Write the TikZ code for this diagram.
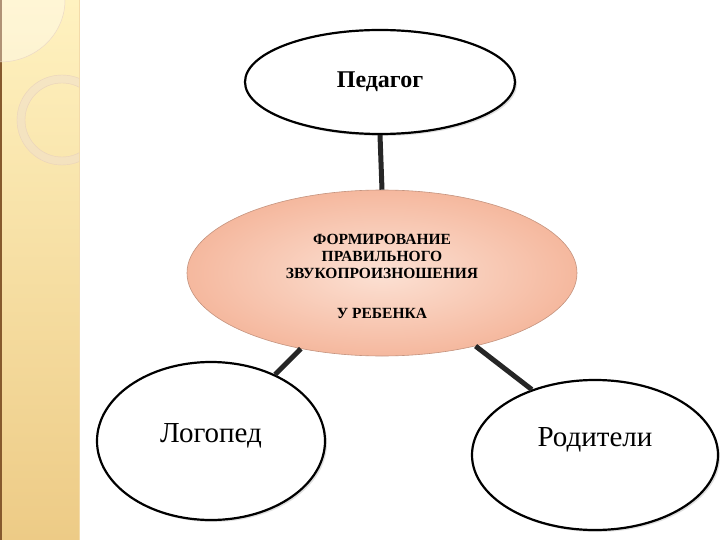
\documentclass[tikz,border=0pt]{standalone}
\usepackage{fontspec}
\setmainfont{Liberation Serif}
\usetikzlibrary{shapes.geometric,shadows}
\definecolor{stripA}{HTML}{FFF2C0}
\definecolor{stripB}{HTML}{EDCB86}
\definecolor{salmon}{HTML}{F5B89E}
\definecolor{salmonL}{HTML}{FCE1D4}
\begin{document}
\begin{tikzpicture}[x=1pt,y=-1pt,
  oval/.style={ellipse,draw=black,line width=2.2pt,fill=white,inner sep=0pt,drop shadow={opacity=0.25,shadow xshift=2pt,shadow yshift=-2pt}},
  conn/.style={line width=5pt,draw=black!85}]
\useasboundingbox (0,0) rectangle (720,540);
\fill[white] (0,0) rectangle (720,540);
% decorative strip
\shade[top color=stripA,bottom color=stripB] (0,0) rectangle (79,540);
\fill[brown!70!black] (0,0) rectangle (1.5,540);
\draw[stripB!70!white,line width=0.6pt] (79,0) -- (79,540);
\begin{scope}
\clip (0,0) rectangle (79,540);
\fill[white,opacity=0.35] (0,0) -- (65,0) arc[start angle=0,end angle=-90,x radius=65,y radius=-62] -- cycle;
\draw[brown!30,line width=0.5pt] (65,0) arc[start angle=0,end angle=-90,x radius=65,y radius=-62];
\draw[brown!25,line width=8pt,opacity=0.5] (62,120) circle[radius=41];
\draw[brown!35,line width=0.4pt] (62,120) circle[radius=45];
\draw[brown!35,line width=0.4pt] (62,120) circle[radius=37];
\end{scope}
% nodes
\node[oval,minimum width=270pt,minimum height=104pt] (ped) at (380,82) {};
\node (pedt) at (ped.center) {\fontsize{24}{28}\selectfont\bfseries Педагог};
\node[ellipse,draw=salmon!80!black,line width=0.6pt,minimum width=390pt,minimum height=166pt,inner sep=0pt,
  inner color=salmonL,outer color=salmon] (mid) at (382,273) {};
\node[align=center,font=\fontsize{15.5}{17}\selectfont\bfseries] (midt) at (382,256) {ФОРМИРОВАНИЕ\\ПРАВИЛЬНОГО\\ЗВУКОПРОИЗНОШЕНИЯ};
\node[font=\fontsize{15.5}{17}\selectfont\bfseries] (midt2) at (382,313) {У РЕБЕНКА};
\node[oval,minimum width=228pt,minimum height=158pt] (log) at (211,441) {};
\node (logt) at (211,436) {\fontsize{29}{32}\selectfont Логопед};
\node[oval,minimum width=246pt,minimum height=150pt] (rod) at (595,455) {};
\node (rodt) at (595,440) {\fontsize{29}{32}\selectfont Родители};
% connectors
\draw[conn] (ped.south) -- (mid.north);
\draw[conn] (mid.-137) -- (log.46);
\draw[conn] (mid.-38) -- (rod.134);
\end{tikzpicture}
\end{document}
